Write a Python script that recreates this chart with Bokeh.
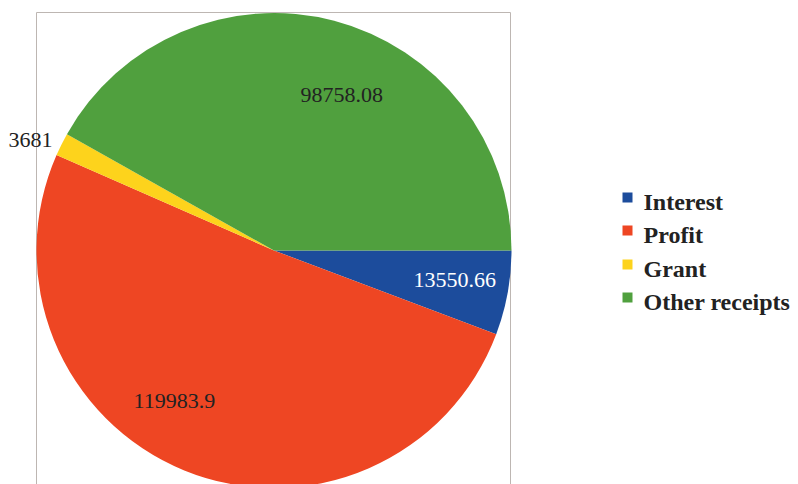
import numpy as np
from bokeh.plotting import figure
from bokeh.models import ColumnDataSource
from bokeh.core.properties import value
from bokeh.embed import file_html
from bokeh.resources import INLINE

# ---- data ----
categories = ["Interest", "Profit", "Grant", "Other receipts"]
values = [13550.66, 119983.9, 3681, 98758.08]
value_labels = ["13550.66", "119983.9", "3681", "98758.08"]
colors = ["#1c4c9c", "#ee4623", "#fdd31c", "#50a03e"]
label_colors = ["white", "#222222", "#222222", "#222222"]

# ---- layout ----
W, H = 798, 484
cx, cy, R = 273.5, 234.0, 237.5
# label anchors (left / baseline), in plot pixels
label_x = [413, 133, 8, 300]
label_y = [205, 84, 345, 390]
legend_x = 643
legend_y = [283, 250, 216, 183]

vals = np.array(values, dtype=float)
frac = vals / vals.sum()
cum = np.concatenate([[0], np.cumsum(frac)])
start = -cum[1:] * 2 * np.pi
end = -cum[:-1] * 2 * np.pi

p = figure(width=W, height=H, x_range=(0, W), y_range=(0, H),
           output_backend="svg", toolbar_location=None, min_border=0)
p.axis.visible = False
p.grid.visible = False
p.outline_line_color = None
p.background_fill_color = "white"

# frame box
p.quad(left=[36], right=[510], top=[472], bottom=[-20],
       fill_color=None, line_color="#bdb6b2", line_width=1)

src = ColumnDataSource(dict(start=start, end=end, color=colors, cat=categories))
p.wedge(x=cx, y=cy, radius=R, start_angle="start", end_angle="end",
        direction="anticlock", fill_color="color", line_color=None, source=src)

lsrc = ColumnDataSource(dict(x=label_x, y=label_y, t=value_labels, c=label_colors))
p.text(x="x", y="y", text="t", text_color="c", source=lsrc,
       text_font=value("Liberation Serif"), text_font_size="22px",
       text_align="left", text_baseline="alphabetic")

# legend
gsrc = ColumnDataSource(dict(y=legend_y, t=categories, color=colors,
                             sy=[y + 4 for y in legend_y]))
p.scatter(x=legend_x - 16, y="sy", marker="square", size=10,
          fill_color="color", line_color=None, source=gsrc)
p.text(x=legend_x, y="y", text="t", source=gsrc, text_color="#222222",
       text_font=value("Liberation Serif"), text_font_size="24px",
       text_font_style="bold", text_align="left", text_baseline="alphabetic")

open("out.html", "w").write(file_html(p, INLINE))
